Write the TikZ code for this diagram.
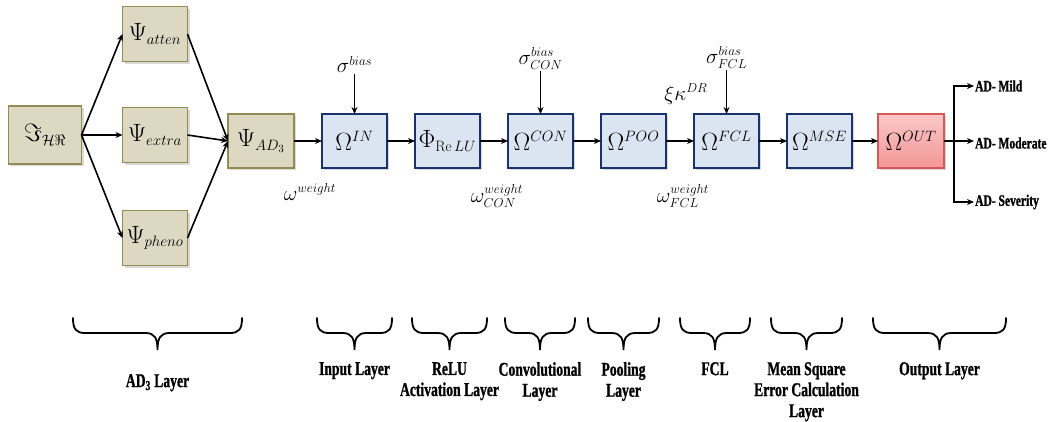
\RequirePackage{fix-cm}
\documentclass[tikz,border=0pt]{standalone}
\usepackage{fontspec}
\usepackage{amsmath}
\usetikzlibrary{arrows.meta, positioning, calc, shadows}
\newfontfamily\lblfont[FakeStretch=0.7, BoldFeatures={FakeBold=1}]{Liberation Serif}
\newfontfamily\outfont[FakeStretch=0.72, BoldFeatures={FakeBold=1}]{Liberation Serif}
\DeclareMathSizes{25}{25}{15}{11}
\DeclareMathSizes{21}{21}{13}{9}
\definecolor{tanfill}{RGB}{221,216,194}
\definecolor{tandraw}{RGB}{148,138,84}
\definecolor{bluefill}{RGB}{219,229,241}
\definecolor{bluedraw}{RGB}{25,52,108}
\definecolor{redtop}{RGB}{251,200,200}
\definecolor{redbot}{RGB}{243,150,150}
\definecolor{reddraw}{RGB}{212,88,88}
\newcommand{\boxfont}{\fontsize{25}{29}\selectfont}
\newcommand{\parfont}{\fontsize{21}{25}\selectfont}
% brace under a layer: left x, right x, name of the tip
\newcommand{\layerbrace}[3]{%
  \pgfmathsetmacro{\bracemid}{(#1+#2)/2}
  \draw[bracestyle] (#1,318) .. controls (#1,329) and (#1+3,333) .. (#1+12,333)
    -- (\bracemid-12,333) .. controls (\bracemid-3,333) and (\bracemid,338) .. (\bracemid,350)
    .. controls (\bracemid,338) and (\bracemid+3,333) .. (\bracemid+12,333)
    -- (#2-12,333) .. controls (#2-3,333) and (#2,329) .. (#2,318);
  \coordinate (#3) at (\bracemid,350);
}

\begin{document}
\begin{tikzpicture}[
    x=1pt, y=-1pt,
    node distance=28pt,
    tanbox/.style={rectangle, draw=tandraw, line width=1.4pt, fill=tanfill, minimum width=65pt, minimum height=55pt, inner sep=2pt, outer sep=0pt, font=\boxfont,
      drop shadow={shadow xshift=2pt, shadow yshift=-2pt, opacity=0.3}},
    bluebox/.style={rectangle, draw=bluedraw, line width=1.8pt, fill=bluefill, minimum width=65pt, minimum height=54pt, inner sep=2pt, outer sep=0pt, font=\boxfont,
      drop shadow={shadow xshift=2pt, shadow yshift=-2pt, opacity=0.3}},
    redbox/.style={rectangle, draw=reddraw, line width=1.4pt, top color=redtop, bottom color=redbot, minimum width=66pt, minimum height=54pt, inner sep=2pt, outer sep=0pt, font=\boxfont,
      drop shadow={shadow xshift=2pt, shadow yshift=-2pt, opacity=0.3}},
    param/.style={inner sep=1pt, font=\parfont},
    outlbl/.style={anchor=west, inner sep=1pt, font=\outfont\bfseries\fontsize{16}{19}\selectfont},
    layerlbl/.style={align=center, inner sep=0pt, font=\lblfont\bfseries\fontsize{19.5}{21}\selectfont},
    arr/.style={-{Stealth[length=7pt, width=6pt]}, line width=1.6pt},
    bracestyle/.style={line width=1.8pt, line cap=round},
  ]
    \useasboundingbox (0,0) rectangle (1054,421);
    % AD3 part
    \node[tanbox, minimum width=73pt, minimum height=58pt] (img) at (45,135) {$\Im_{\mathcal{H}\Re}$};
    \node[tanbox, right=41pt of img] (extra) {$\Psi_{extra}$};
    \node[tanbox, above=46pt of extra] (atten) {$\Psi_{atten}$};
    \node[tanbox, below=48pt of extra] (pheno) {$\Psi_{pheno}$};
    \node[tanbox, minimum width=66pt, minimum height=54pt] (ad3) at (261,141) {$\Psi_{AD_3}$};
    \draw[arr] (img.east) -- (atten.west);
    \draw[arr] (img.east) -- (extra.west);
    \draw[arr] (img.east) -- (pheno.west);
    \draw[arr] (atten.east) -- (ad3.west);
    \draw[arr] (extra.east) -- (ad3.west);
    \draw[arr] (pheno.east) -- (ad3.west);
    % network layers
    \node[bluebox, right=of ad3] (inL) {$\Omega^{IN}$};
    \node[bluebox, right=of inL] (relu) {$\Phi_{\mathrm{Re}\,LU}$};
    \node[bluebox, right=of relu] (conv) {$\Omega^{CON}$};
    \node[bluebox, right=of conv] (pool) {$\Omega^{POO}$};
    \node[bluebox, right=of pool] (fcl) {$\Omega^{FCL}$};
    \node[bluebox, right=of fcl] (mse) {$\Omega^{MSE}$};
    \node[redbox, right=26pt of mse] (outL) {$\Omega^{OUT}$};
    \draw[arr] (ad3) -- (inL);
    \draw[arr] (inL) -- (relu);
    \draw[arr] (relu) -- (conv);
    \draw[arr] (conv) -- (pool);
    \draw[arr] (pool) -- (fcl);
    \draw[arr] (fcl) -- (mse);
    \draw[arr] (mse) -- (outL);
    % bias and weight terms
    \node[param, above=40pt of inL] (biasIn) {$\sigma^{bias}$};
    \node[param, above=43pt of conv] (biasCon) {$\sigma_{CON}^{bias}$};
    \node[param, above=44pt of fcl] (biasFcl) {$\sigma_{FCL}^{bias}$};
    \draw[arr] (biasIn.south -| inL.north) -- (inL.north);
    \draw[arr] (biasCon.south -| conv.north) -- (conv.north);
    \draw[arr] (biasFcl.south -| fcl.north) -- (fcl.north);
    \node[param] (wIn) at ($(inL.south west)+(-12,24)$) {$\omega^{weight}$};
    \node[param] (wCon) at ($(conv.south west)+(-11,28)$) {$\omega_{CON}^{weight}$};
    \node[param] (wFcl) at ($(fcl.south west)+(-11,28)$) {$\omega_{FCL}^{weight}$};
    \node[param] (drop) at ($(fcl.north west)+(-8,-20)$) {$\xi\kappa^{DR}$};
    % outputs
    \coordinate (split) at ($(outL.east)+(10,0)$);
    \node[outlbl] (moderate) at ($(split)+(20,2)$) {AD- Moderate};
    \node[outlbl] (mild) at ($(split)+(20,-55)$) {AD- Mild};
    \node[outlbl] (severity) at ($(split)+(20,61)$) {AD- Severity};
    \draw[arr] (outL.east) -- (moderate.west |- split);
    \draw[arr] (split) |- (mild.west);
    \draw[arr] (split) |- (severity.west);
    % layer braces
    \layerbrace{73}{242}{adB}
    \layerbrace{317}{392}{inB}
    \layerbrace{412}{487}{reluB}
    \layerbrace{505}{575}{convB}
    \layerbrace{588}{659}{poolB}
    \layerbrace{680}{750}{fclB}
    \layerbrace{771}{842}{mseB}
    \layerbrace{873}{1006}{outB}
    \node[layerlbl, below=24pt of adB] (adT) {AD\textsubscript{3} Layer};
    \node[layerlbl, below=12pt of inB] (inT) {Input Layer};
    \node[layerlbl, below=12pt of reluB] (reluT) {ReLU\\Activation Layer};
    \node[layerlbl, below=12pt of convB] (convT) {Convolutional\\Layer};
    \node[layerlbl, below=12pt of poolB] (poolT) {Pooling\\Layer};
    \node[layerlbl, below=12pt of fclB] (fclT) {FCL};
    \node[layerlbl, below=12pt of mseB] (mseT) {Mean Square\\Error Calculation\\Layer};
    \node[layerlbl, below=12pt of outB] (outT) {Output Layer};
  \end{tikzpicture}
\end{document}
